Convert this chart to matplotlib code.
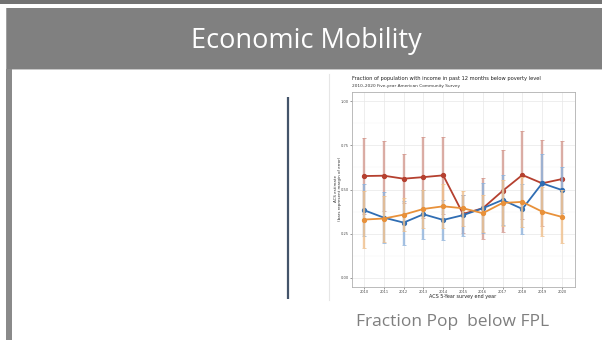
import numpy as np
import matplotlib.pyplot as plt
from matplotlib.patches import Rectangle

years = [2010, 2011, 2012, 2013, 2014, 2015, 2016, 2017, 2018, 2019, 2020]

red_est = [0.576, 0.578, 0.561, 0.570, 0.580, 0.362, 0.394, 0.492, 0.582, 0.535, 0.559]
red_moe = [0.216, 0.197, 0.137, 0.229, 0.219, 0.107, 0.173, 0.232, 0.251, 0.242, 0.216]

blue_est = [0.383, 0.341, 0.313, 0.360, 0.328, 0.355, 0.394, 0.441, 0.390, 0.535, 0.497]
blue_moe = [0.146, 0.143, 0.124, 0.137, 0.113, 0.115, 0.140, 0.141, 0.141, 0.163, 0.131]

orange_est = [0.330, 0.336, 0.358, 0.390, 0.405, 0.394, 0.366, 0.424, 0.430, 0.375, 0.345]
orange_moe = [0.163, 0.130, 0.095, 0.105, 0.124, 0.098, 0.105, 0.130, 0.140, 0.140, 0.150]

y_ticks = [0.00, 0.25, 0.50, 0.75, 1.00]
y_tick_labels = ['0.00', '0.25', '0.50', '0.75', '1.00']

W, H = 602, 340
fig = plt.figure(figsize=(W / 100, H / 100), dpi=100)
fig.patch.set_facecolor('white')

# slide background drawn in pixel coords
bg = fig.add_axes([0, 0, 1, 1])
bg.set_xlim(0, W)
bg.set_ylim(H, 0)
bg.axis('off')

bg.add_patch(Rectangle((0, 0), W, 3.5, color='#737373', lw=0))
bg.add_patch(Rectangle((6, 8), W - 6, 61, color='#808080', lw=0))
bg.add_patch(Rectangle((6, 8), 1.2, 61, color='#a0a0a0', lw=0))
bg.add_patch(Rectangle((6, 69), W - 6, 1.2, color='#c8c8c8', lw=0))
bg.add_patch(Rectangle((6, 69), 5.5, H - 69, color='#8a8a8a', lw=0))
bg.plot([288, 288], [97, 299], color='#44546a', lw=1.6, solid_capstyle='butt')
bg.plot([328.5, 328.5], [74, 300], color='#e6e6e6', lw=0.8)

bg.text(306, 41, 'Economic Mobility', color='white', fontsize=19.5,
        family='Open Sans', ha='center', va='center')
bg.text(453, 322, 'Fraction Pop  below FPL', color='#7f7f7f', fontsize=12.5,
        family='Open Sans', ha='center', va='center')

# chart text
bg.text(352, 78.5, 'Fraction of population with income in past 12 months below poverty level',
        fontsize=3.7, color='#222222', va='center', ha='left')
bg.text(352, 85.5, '2010\u20132020 Five-year American Community Survey',
        fontsize=3.1, color='#333333', va='center', ha='left')
bg.text(463, 296.5, 'ACS 5-Year survey end year', fontsize=3.5, color='#222222',
        ha='center', va='center')
bg.text(338, 189, 'ACS estimate\n(bars represent margin of error)', fontsize=2.9,
        color='#333333', ha='center', va='center', rotation=90, linespacing=1.1)

# the plot panel
ax = fig.add_axes([352 / W, (H - 287) / H, (575 - 352) / W, (287 - 92) / H])
ax.set_facecolor('white')
ax.set_xlim(2009.39, 2020.66)
ax.set_ylim(-0.051, 1.051)
ax.set_xticks(years)
ax.set_xticklabels([str(y) for y in years])
ax.set_yticks(y_ticks)
ax.set_yticklabels(y_tick_labels)
ax.set_yticks([0.125, 0.375, 0.625, 0.875], minor=True)
ax.tick_params(axis='both', which='major', labelsize=2.6, colors='#4d4d4d',
               length=1.2, width=0.4, pad=1)
ax.tick_params(axis='both', which='minor', length=0)
ax.grid(True, which='major', color='#e8e8e8', lw=0.5)
ax.grid(True, which='minor', axis='y', color='#f2f2f2', lw=0.3)
ax.set_axisbelow(True)
for s in ax.spines.values():
    s.set_edgecolor('#b0b0b0')
    s.set_linewidth(0.6)

series = [
    (red_est, red_moe, '#b5402f', '#d49a90'),
    (blue_est, blue_moe, '#2f6db3', '#8fb3dc'),
    (orange_est, orange_moe, '#e8913a', '#f0c08c'),
]
for est, moe, col, light in series:
    ax.errorbar(years, est, yerr=moe, fmt='none', ecolor=light, elinewidth=1.7,
                capsize=1.4, capthick=0.7, alpha=0.8)
    ax.plot(years, est, color=col, lw=1.3, marker='o', ms=2.8)

fig.savefig('out.png', dpi=100)
